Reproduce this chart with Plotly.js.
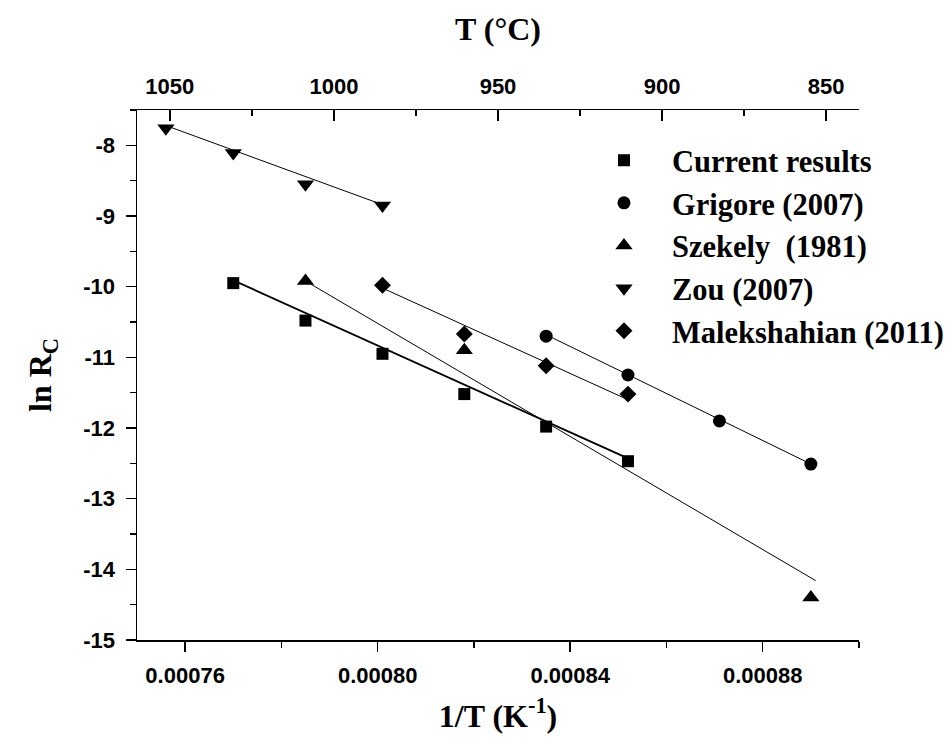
<!DOCTYPE html>
<html>
<head>
<meta charset="utf-8">
<script src="https://cdn.plot.ly/plotly-3.0.1.min.js"></script>
<style>html,body{margin:0;padding:0;background:#fff;}#chart{width:952px;height:745px;}</style>
</head>
<body>
<div id="chart"></div>
<script>
// ---- data (x = 1/T in K^-1, y = ln Rc) ----
const xCurrent = [0.000770, 0.000785, 0.000801, 0.000818, 0.000835, 0.000852];
const yCurrent = [-9.95, -10.48, -10.95, -11.52, -11.98, -12.47];
const xGrigore = [0.000835, 0.000852, 0.000871, 0.000890];
const yGrigore = [-10.70, -11.25, -11.90, -12.51];
const xSzekely = [0.000785, 0.000818, 0.000890];
const ySzekely = [-9.92, -10.90, -14.40];
const xZou = [0.000756, 0.000770, 0.000785, 0.000801];
const yZou = [-7.76, -8.11, -8.55, -8.85];
const xMalek = [0.000801, 0.000818, 0.000835, 0.000852];
const yMalek = [-9.98, -10.67, -11.12, -11.52];

// fitted lines (end points)
const fitCurrentX = [0.000770, 0.000852], fitCurrentY = [-9.91, -12.43];
const fitGrigoreX = [0.000835, 0.000890], fitGrigoreY = [-10.68, -12.51];
const fitSzekelyX = [0.000785, 0.000891], fitSzekelyY = [-9.92, -14.16];
const fitZouX = [0.000756, 0.000801], fitZouY = [-7.72, -8.84];
const fitMalekX = [0.000801, 0.000852], fitMalekY = [-10.02, -11.60];

const seriesNames = ['Current results', 'Grigore (2007)', 'Szekely\u00a0 (1981)', 'Zou (2007)', 'Malekshahian (2011)'];

// tick labels
const xTickVals = [0.00076, 0.00080, 0.00084, 0.00088];
const xTickText = ['0.00076', '0.00080', '0.00084', '0.00088'];
const yTickVals = [-15, -14, -13, -12, -11, -10, -9, -8];
const yTickText = ['-15', '-14', '-13', '-12', '-11', '-10', '-9', '-8'];
const topTickVals = [1050, 1000, 950, 900, 850];
const topTickText = ['1050', '1000', '950', '900', '850'];

const tickFont = {family: 'Liberation Sans, Arial, sans-serif', size: 22, color: '#000', weight: 'bold'};
const titleFont = {family: 'Liberation Serif, Times New Roman, serif', size: 32, color: '#000', weight: 'bold'};

function pts(x, y, name, symbol, size) {
  return {x: x, y: y, name: name, type: 'scatter', mode: 'markers',
    marker: {symbol: symbol, size: size, color: '#000', line: {width: 0}}, cliponaxis: false};
}
function fit(x, y, w) {
  return {x: x, y: y, type: 'scatter', mode: 'lines', showlegend: false, hoverinfo: 'skip',
    line: {color: '#000', width: w || 1}};
}

const traces = [
  fit(fitCurrentX, fitCurrentY, 1.8),
  fit(fitGrigoreX, fitGrigoreY),
  fit(fitSzekelyX, fitSzekelyY),
  fit(fitZouX, fitZouY),
  fit(fitMalekX, fitMalekY),
  pts(xCurrent, yCurrent, seriesNames[0], 'square', 12),
  pts(xGrigore, yGrigore, seriesNames[1], 'circle', 13),
  pts(xSzekely, ySzekely, seriesNames[2], 'triangle-up', 15),
  pts(xZou, yZou, seriesNames[3], 'triangle-down', 15),
  pts(xMalek, yMalek, seriesNames[4], 'diamond', 13),
  {x: topTickVals, y: topTickVals.map(() => null), xaxis: 'x2', yaxis: 'y', type: 'scatter',
   mode: 'markers', showlegend: false, hoverinfo: 'skip', marker: {opacity: 0}}
];

const layout = {
  width: 952, height: 745,
  margin: {l: 137, r: 93, t: 110, b: 105, autoexpand: false},
  paper_bgcolor: '#fff', plot_bgcolor: '#fff',
  showlegend: true,
  legend: {x: 0.608, y: 0.955, xanchor: 'left', yanchor: 'top', bgcolor: 'rgba(0,0,0,0)',
    font: {family: 'Liberation Serif, Times New Roman, serif', size: 30.5, color: '#000', weight: 'bold'},
    itemwidth: 86, traceorder: 'normal'},
  xaxis: {range: [0.00075, 0.00090], tickvals: xTickVals, ticktext: xTickText,
    ticks: 'outside', ticklen: 10, tickwidth: 1.5, tickcolor: '#000',
    minor: {tickvals: [0.00078, 0.00082, 0.00086, 0.00090], ticks: 'outside', ticklen: 6, tickwidth: 1.5, tickcolor: '#000'},
    showline: true, linecolor: '#000', linewidth: 1.5, showgrid: false, zeroline: false,
    tickfont: tickFont, ticklabelstandoff: 5,
    title: {text: '1/T (K<sup>-1</sup>)', font: titleFont, standoff: 17}},
  xaxis2: {overlaying: 'x', side: 'top', anchor: 'y', range: [1060, 840],
    tickvals: topTickVals, ticktext: topTickText,
    ticks: 'inside', ticklen: 11, tickwidth: 1.5, tickcolor: '#000',
    minor: {tickvals: [1025, 975, 925, 875], ticks: 'inside', ticklen: 6, tickwidth: 1.5, tickcolor: '#000'},
    showline: true, linecolor: '#000', linewidth: 1.5, showgrid: false, zeroline: false,
    tickfont: tickFont, ticklabelstandoff: 6,
    title: {text: 'T (°C)', font: titleFont, standoff: 23}},
  yaxis: {range: [-15, -7.5], tickvals: yTickVals, ticktext: yTickText,
    ticks: 'outside', ticklen: 10, tickwidth: 1.5, tickcolor: '#000',
    minor: {dtick: 0.5, ticks: 'outside', ticklen: 6, tickwidth: 1.5, tickcolor: '#000'},
    showline: true, linecolor: '#000', linewidth: 1.5, showgrid: false, zeroline: false,
    tickfont: tickFont, ticklabelstandoff: 6,
    title: {text: 'ln R<sub>C</sub>', font: titleFont, standoff: 22}}
};

Plotly.newPlot('chart', traces, layout, {displayModeBar: false, staticPlot: true});
</script>
</body>
</html>
